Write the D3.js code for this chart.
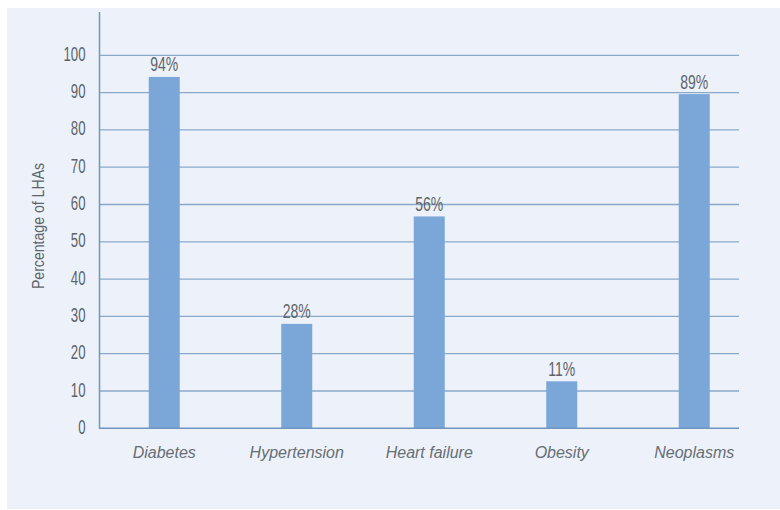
<!DOCTYPE html>
<html>
<head>
<meta charset="utf-8">
<script src="https://cdn.jsdelivr.net/npm/d3@7"></script>
<style>
  html, body { margin: 0; padding: 0; background: #ffffff; }
  svg { display: block; }
</style>
</head>
<body>
<svg id="chart" width="780" height="510"></svg>
<script>
// ---- data ----
const categories = ["Diabetes", "Hypertension", "Heart failure", "Obesity", "Neoplasms"];
const values = [94.2, 28, 56.8, 12.6, 89.6];
const valueLabels = ["94%", "28%", "56%", "11%", "89%"];
const yTicks = [0, 10, 20, 30, 40, 50, 60, 70, 80, 90, 100];
const yTitle = "Percentage of LHAs";

// ---- drawing ----
const svg = d3.select("#chart");
const textColor = "#5d646b";
const gridColor = "#8aa9c8";
const axisColor = "#6e96c0";
const barColor = "#7ba7d8";
const condFont = "'Liberation Sans', Arial, sans-serif";

svg.append("rect").attr("x", 7).attr("y", 8).attr("width", 773).attr("height", 501)
  .attr("fill", "#edf2fa");

const x = d3.scaleBand().domain(categories).range([98, 760.5])
  .paddingInner(0.766).paddingOuter(0.383);
const y = d3.scaleLinear().domain([0, 100]).range([428.3, 55.3]);

const plotLeft = 99.5, gridRight = 739;

// gridlines
svg.append("g").selectAll("line").data(yTicks.filter(d => d > 0)).join("line")
  .attr("x1", plotLeft).attr("x2", gridRight)
  .attr("y1", d => y(d)).attr("y2", d => y(d))
  .attr("stroke", gridColor).attr("stroke-width", 1.3);

// tick labels
svg.append("g").selectAll("text").data(yTicks).join("text")
  .attr("transform", d => `translate(85.5,${y(d) + 5.5}) scale(0.66,1)`)
  .attr("text-anchor", "end")
  .attr("font-family", condFont)
  .attr("font-size", 20)
  .attr("fill", textColor)
  .text(d => d);

// bars
svg.append("g").selectAll("rect").data(values).join("rect")
  .attr("x", (d, i) => x(categories[i]))
  .attr("width", x.bandwidth())
  .attr("y", d => y(d))
  .attr("height", d => y(0) - y(d))
  .attr("fill", barColor);

// value labels
svg.append("g").selectAll("text").data(values).join("text")
  .attr("transform", (d, i) => `translate(${x(categories[i]) + x.bandwidth() / 2},${y(d) - 5.5}) scale(0.7,1)`)
  .attr("text-anchor", "middle")
  .attr("font-family", condFont)
  .attr("font-size", 20)
  .attr("fill", textColor)
  .text((d, i) => valueLabels[i]);

// axes lines
svg.append("line").attr("x1", plotLeft).attr("x2", plotLeft).attr("y1", 12).attr("y2", y(0) + 0.7)
  .attr("stroke", axisColor).attr("stroke-width", 1.5);
svg.append("line").attr("x1", plotLeft).attr("x2", gridRight).attr("y1", y(0)).attr("y2", y(0))
  .attr("stroke", axisColor).attr("stroke-width", 1.5);

// category labels
svg.append("g").selectAll("text").data(categories).join("text")
  .attr("x", d => x(d) + x.bandwidth() / 2)
  .attr("y", 458.3)
  .attr("text-anchor", "middle")
  .attr("font-family", "'Liberation Sans', sans-serif")
  .attr("font-style", "italic")
  .attr("font-size", 16)
  .attr("fill", "#676d74")
  .text(d => d);

// y title
svg.append("text")
  .attr("transform", "translate(43.5,226) rotate(-90) scale(0.83,1)")
  .attr("text-anchor", "middle")
  .attr("font-family", condFont)
  .attr("font-size", 17)
  .attr("fill", textColor)
  .text(yTitle);
</script>
</body>
</html>
